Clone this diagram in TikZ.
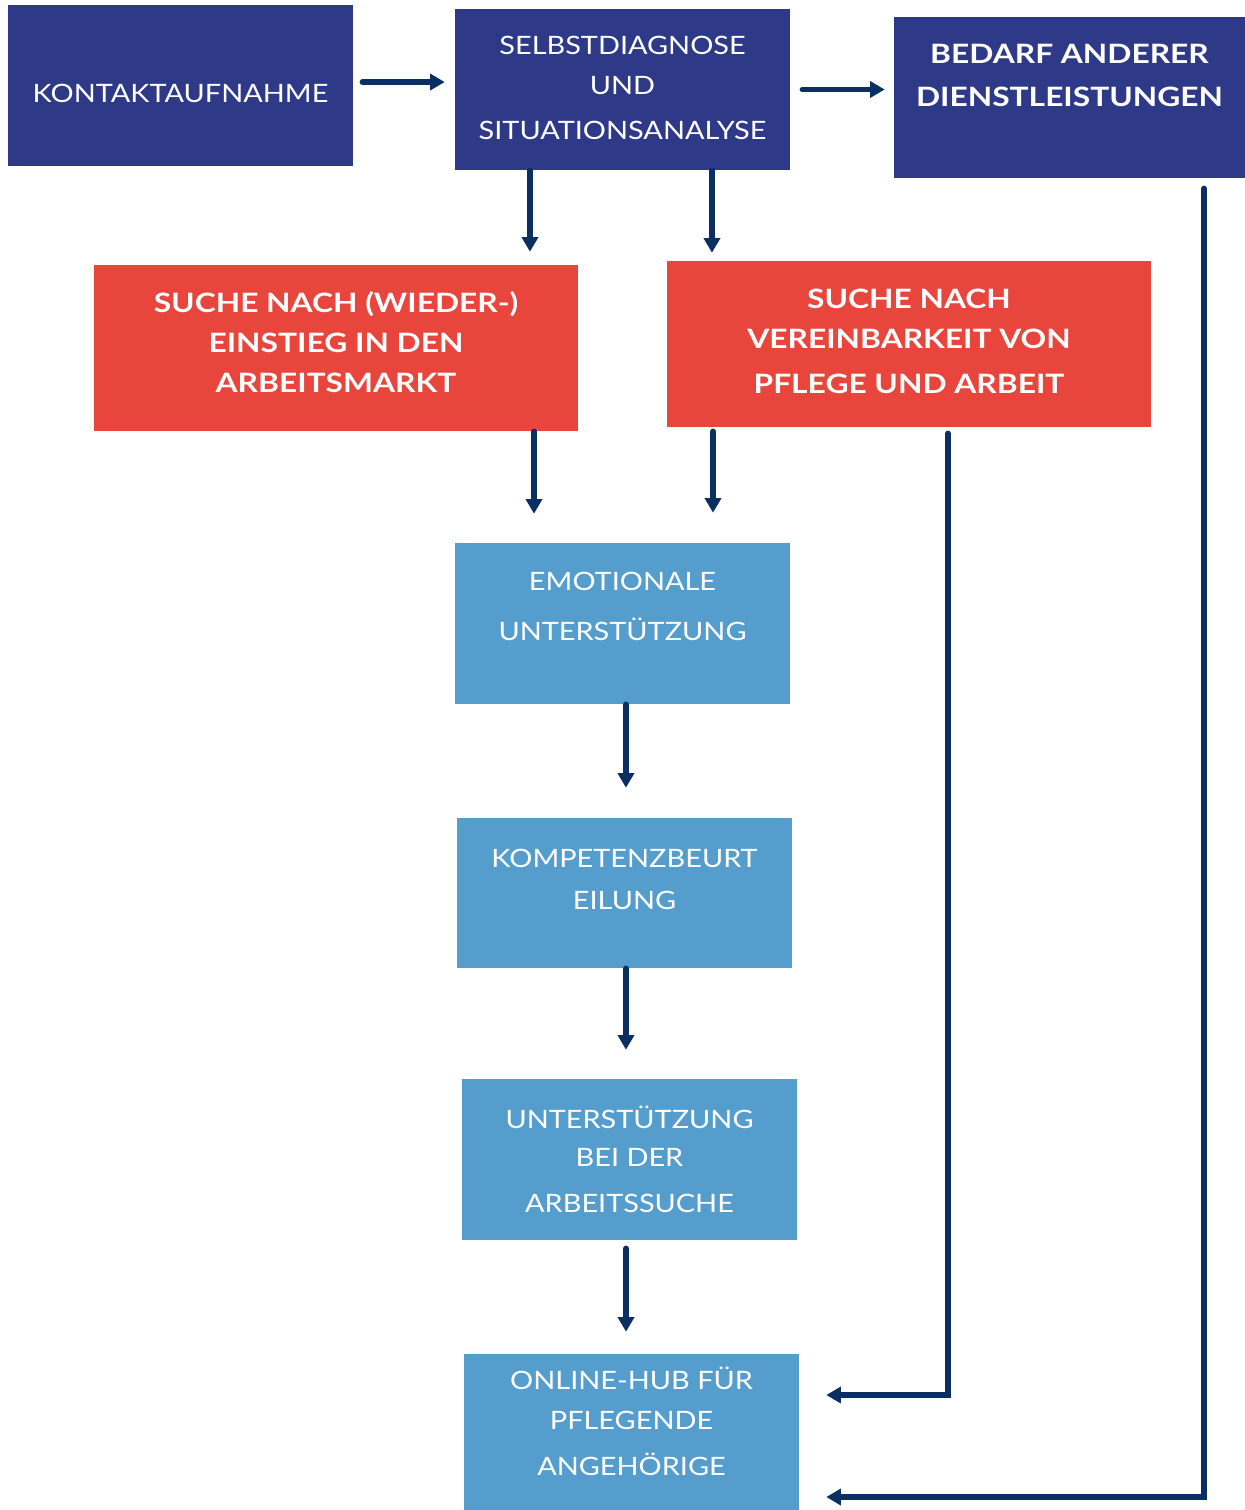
\documentclass[tikz,border=0pt]{standalone}
\usepackage{fontspec}
\setmainfont{Lato}
\newfontfamily\regfont[FakeStretch=1.14]{Lato}
\newfontfamily\heavyfont[FakeStretch=1.19]{Lato}
\usetikzlibrary{arrows.meta}
\definecolor{navybox}{HTML}{2E3A87}
\definecolor{redbox}{HTML}{E8453C}
\definecolor{skybox}{HTML}{559DCC}
\definecolor{arrowcol}{HTML}{0B2F62}
\tikzset{
	box/.style={fill=#1, inner sep=0pt},
	sz/.style 2 args={minimum width=#1*0.75pt, minimum height=#2*0.75pt},
	txt/.style={text=white, align=center, font=\regfont\fontsize{19pt}{30pt}\selectfont},
	btxt/.style={txt, font=\heavyfont\fontsize{20pt}{30pt}\selectfont\bfseries},
	arr/.style={draw=arrowcol, line width=4pt, line cap=round, -{Triangle[length=11pt, width=12pt]}}
}
\begin{document}
\begin{tikzpicture}[x=0.75pt, y=-0.75pt]
	\useasboundingbox (0,0) rectangle (1245,1510);
	% top row
	\node[box=navybox, sz={345}{161}, label={[txt, yshift=-5.6pt]center:KONTAKTAUFNAHME}] (kontakt) at (180.5,85.5) {};
	\node[box=navybox, sz={335}{161}, label={[txt, yshift=1.1pt]center:{SELBSTDIAGNOSE\\UND\\[4pt]SITUATIONSANALYSE}}] (selbst) at (622.5,89.5) {};
	\node[box=navybox, sz={351}{161}, label={[btxt, yshift=16.5pt]center:{BEDARF ANDERER\\[2pt]DIENSTLEISTUNGEN}}] (bedarf) at (1069.5,97.5) {};
	% zwei wege
	\node[box=redbox, sz={484}{166}, label={[btxt, yshift=4.1pt]center:{SUCHE NACH (WIEDER-)\\EINSTIEG IN DEN\\ARBEITSMARKT}}] (wieder) at (336,348) {};
	\node[box=redbox, sz={484}{166}, label={[btxt, yshift=1.9pt]center:{SUCHE NACH\\VEREINBARKEIT VON\\[4pt]PFLEGE UND ARBEIT}}] (vereinb) at (909,344) {};
	% kette
	\node[box=skybox, sz={335}{161}, label={[txt, yshift=12.75pt]center:{EMOTIONALE\\[7pt]UNTERSTÜTZUNG}}] (emot) at (622.5,623.5) {};
	\node[box=skybox, sz={335}{150}, label={[txt, yshift=10.1pt]center:{KOMPETENZBEURT\\[2pt]EILUNG}}] (kompetenz) at (624.5,893) {};
	\node[box=skybox, sz={335}{161}, label={[txt]center:{UNTERSTÜTZUNG\\[-1.5pt]BEI DER\\[4.5pt]ARBEITSSUCHE}}] (arbsuche) at (629.5,1159.5) {};
	\node[box=skybox, sz={335}{156}, label={[txt, yshift=7.9pt]center:{ONLINE-HUB FÜR\\PFLEGENDE\\[4pt]ANGEHÖRIGE}}] (hub) at (631.5,1432) {};

	\draw[arr, shorten <=6.75pt, shorten >=7.5pt] ([yshift=2.6pt]kontakt.east) -- ([yshift=2.6pt]kontakt.east -| selbst.west);
	\draw[arr, shorten <=9pt, shorten >=6.75pt] (selbst.east) -- (selbst.east -| bedarf.west);
	\draw[arr, shorten >=9.75pt] ([xshift=-69.4pt]selbst.south) -- ([xshift=-69.4pt]selbst.south |- wieder.north);
	\draw[arr, shorten >=6pt] ([xshift=67.1pt]selbst.south) -- ([xshift=67.1pt]selbst.south |- vereinb.north);
	\draw[arr, shorten >=21.75pt] ([xshift=148.5pt]wieder.south) -- ([xshift=148.5pt]wieder.south |- emot.north);
	\draw[arr, shorten <=3pt, shorten >=22.5pt] ([xshift=-147pt]vereinb.south) -- ([xshift=-147pt]vereinb.south |- emot.north);
	\draw[arr, shorten >=22.5pt] ([xshift=2.6pt]emot.south) -- ([xshift=2.6pt]emot.south |- kompetenz.north);
	\draw[arr, shorten >=21.75pt] ([xshift=1.1pt]kompetenz.south) -- ([xshift=1.1pt]kompetenz.south |- arbsuche.north);
	\draw[arr, shorten <=6pt, shorten >=16.5pt] ([xshift=-2.6pt]arbsuche.south) -- ([xshift=-2.6pt]arbsuche.south |- hub.north);
	\draw[arr, shorten <=4.5pt, shorten >=20.25pt] ([xshift=29.25pt]vereinb.south) |- ([yshift=27.75pt]hub.east);
	\draw[arr, shorten <=7.5pt, shorten >=20.25pt] ([xshift=100.9pt]bedarf.south) |- ([yshift=-48.75pt]hub.east);
\end{tikzpicture}
\end{document}
